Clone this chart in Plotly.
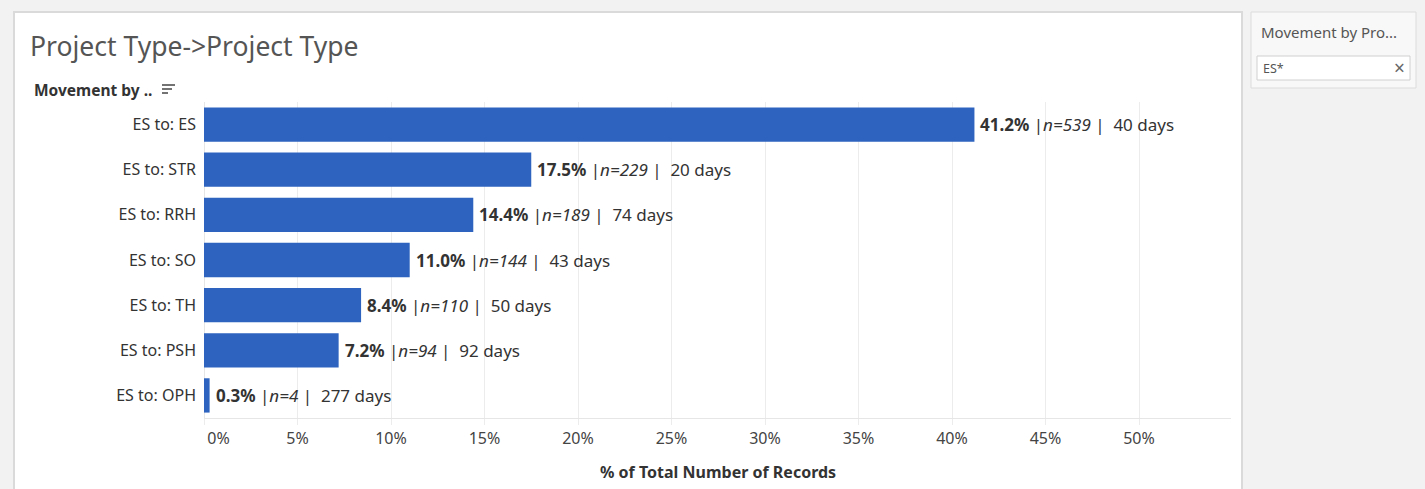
import plotly.graph_objects as go

# Data
categories = ["ES to: ES", "ES to: STR", "ES to: RRH", "ES to: SO", "ES to: TH", "ES to: PSH", "ES to: OPH"]
pct_values = [41.2, 17.5, 14.4, 11.0, 8.4, 7.2, 0.3]
n_records = [539, 229, 189, 144, 110, 94, 4]
median_days = [40, 20, 74, 43, 50, 92, 277]
tick_vals = [0, 5, 10, 15, 20, 25, 30, 35, 40, 45, 50]
tick_text = ["0%", "5%", "10%", "15%", "20%", "25%", "30%", "35%", "40%", "45%", "50%"]

# Canvas geometry (pixels)
W, H = 1425, 489
ML, MR, MT, MB = 204, 194, 102, 71
PW, PH = W - ML - MR, H - MT - MB
FONT = "Noto Sans"
BAR_COLOR = "#2e64bf"
TEXT = "#333333"


def px(xp):
    return (xp - ML) / PW


def py(yp):
    return 1 - (yp - MT) / PH


fig = go.Figure()
fig.add_trace(go.Bar(
    x=pct_values,
    y=categories,
    orientation="h",
    width=0.76,
    marker=dict(color=BAR_COLOR, line=dict(width=0)),
    hoverinfo="skip",
))

annotations = []
for cat, v, n, d in zip(categories, pct_values, n_records, median_days):
    annotations.append(dict(
        x=v, y=cat, xref="x", yref="y",
        text=f"<b>{v:.1f}%</b> |<i>n={n}</i> |\u00a0 {d} days",
        showarrow=False, xanchor="left", yanchor="middle", xshift=4,
        font=dict(family=FONT, size=17, color=TEXT),
    ))

# Titles and headers
annotations += [
    dict(x=px(28), y=py(46), xref="paper", yref="paper", text="Project Type->Project Type",
         showarrow=False, xanchor="left", yanchor="middle",
         font=dict(family=FONT, size=26.5, color="#555555")),
    dict(x=px(32), y=py(90), xref="paper", yref="paper", text="<b>Movement by ..</b>",
         showarrow=False, xanchor="left", yanchor="middle",
         font=dict(family=FONT, size=15.5, color=TEXT)),
    dict(x=0.5, y=py(472), xref="paper", yref="paper", text="<b>% of Total Number of Records</b>",
         showarrow=False, xanchor="center", yanchor="middle",
         font=dict(family=FONT, size=16, color=TEXT)),
    dict(x=px(1259), y=py(32), xref="paper", yref="paper", text="Movement by Pro...",
         showarrow=False, xanchor="left", yanchor="middle",
         font=dict(family=FONT, size=15, color="#555555")),
    dict(x=px(1261), y=py(68), xref="paper", yref="paper", text="ES*",
         showarrow=False, xanchor="left", yanchor="middle",
         font=dict(family=FONT, size=12.5, color="#555555")),
    dict(x=px(1399), y=py(68), xref="paper", yref="paper", text="\u00d7",
         showarrow=False, xanchor="center", yanchor="middle",
         font=dict(family=FONT, size=19, color="#666666")),
]

shapes = [
    # main white panel
    dict(type="rect", xref="paper", yref="paper", x0=px(14), x1=px(1242), y0=py(12), y1=py(495),
         fillcolor="white", line=dict(color="#dadada", width=2), layer="below"),
    # filter card
    dict(type="rect", xref="paper", yref="paper", x0=px(1251), x1=px(1416), y0=py(12), y1=py(88),
         fillcolor="#f8f8f8", line=dict(color="#dcdcdc", width=1), layer="below"),
    dict(type="rect", xref="paper", yref="paper", x0=px(1257), x1=px(1410), y0=py(56), y1=py(80),
         fillcolor="white", line=dict(color="#d0d0d0", width=1), layer="below"),
]
# sort icon next to the row header
for i, (x0, x1) in enumerate([(162, 175), (162, 172), (162, 168)]):
    yy = py(85 + i * 4)
    shapes.append(dict(type="line", xref="paper", yref="paper", x0=px(x0), x1=px(x1), y0=yy, y1=yy,
                       line=dict(color="#444444", width=1.5)))

fig.update_layout(
    width=W, height=H,
    margin=dict(l=ML, r=MR, t=MT, b=MB),
    paper_bgcolor="#f2f2f2",
    plot_bgcolor="rgba(0,0,0,0)",
    showlegend=False,
    font=dict(family=FONT, size=15, color=TEXT),
    annotations=annotations,
    shapes=shapes,
)
fig.update_xaxes(
    range=[0, PW / 18.7],
    tickvals=tick_vals,
    ticktext=["\u00a0" * 7 + tick_text[0]] + tick_text[1:],
    showgrid=True, gridcolor="#ececec", gridwidth=1,
    zeroline=True, zerolinecolor="#e6e6e6", zerolinewidth=1,
    showline=True, linecolor="#e6e6e6", linewidth=1,
    ticks="outside", ticklen=6, tickcolor="#ececec",
    tickfont=dict(family=FONT, size=16, color="#444444"),
    fixedrange=True,
)
fig.update_yaxes(
    categoryorder="array", categoryarray=categories, autorange="reversed",
    showgrid=False, zeroline=False, showline=False,
    ticks="", ticklabelstandoff=7,
    tickfont=dict(family=FONT, size=16, color=TEXT),
    fixedrange=True,
)

fig.write_html("out.html")
